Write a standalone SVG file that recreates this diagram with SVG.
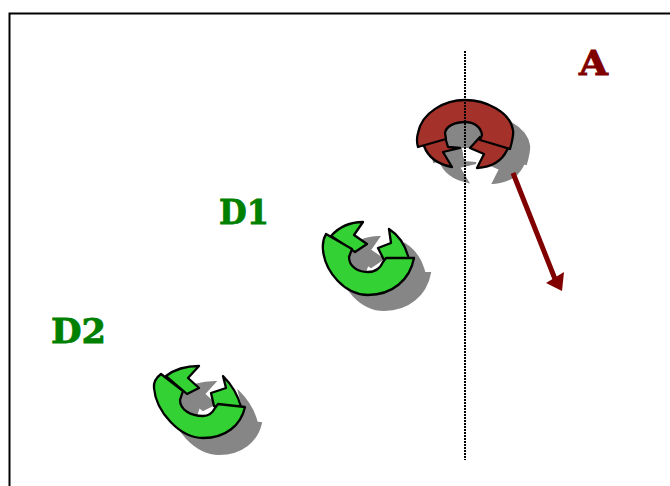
<svg xmlns="http://www.w3.org/2000/svg" width="670" height="486" viewBox="0 0 670 486">
<style>
.p{stroke:#000;stroke-width:2.300;stroke-linejoin:round}
.g{fill:#33d133}
.r{fill:#a5322a}
.s{fill:#868686;stroke:#868686;stroke-width:2}
.t{font-family:"DejaVu Serif",serif;font-weight:bold;font-size:33px;stroke-width:.8}
</style>
<defs>
<g id="a-shape">
<path d="M424 143L445 137L448 147L460 148L443 152L452 167C437 164 428 157 424 146Z"/>
<path d="M507 150L510 146L480 137L470 148L484 154L477 168C492 167 502 161 507 150Z"/>
<path d="M418 147Q416 140 418 133C422 112 445 100 465 100C486 100 510 112 513 130Q514 135 510 149L480 140L482 135C481 127 474 122 465 122C455 122 446 126 445 133L446 139Z"/>
</g>
<g id="d1-shape">
<path d="M331 236C340 226 351 222 363 222L354 235L367 244L355 252Z"/>
<path d="M389 229C400 236 406 246 409 260L384 260L378 248L391 243Z"/>
<path d="M326 234Q322 241 323 250C325 272 345 295 368 295C392 295 410 280 414 258L386 258L383 262C380 269 375 272 368 272C357 272 349 266 349 257L352 249Z"/>
</g>
<g id="d2-shape">
<path d="M166 376C175 369 187 366 199 366L188 378L199 388L187 394Z"/>
<path d="M223 376C232 385 238 395 241 407L214 406L211 393L226 388Z"/>
<path d="M161 374Q153 380 154 388C156 412 180 438 203 438C226 438 241 425 245 407L218 404L215 408C212 414 208 416 203 416C191 416 180 410 180 400L183 391Z"/>
</g>
</defs>
<rect id="frame" x="9.500" y="13.500" width="680" height="500" fill="none" stroke="#000" stroke-width="2"/>
<g id="node-a">
<use href="#a-shape" class="s" x="16" y="15"/>
<path d="M465 122C455 122 446 126 445 133L446 139L460 148L470 148L480 140L482 135C481 127 474 122 465 122Z" fill="#868686"/>
<use href="#a-shape" class="r p"/>
<text x="579" y="75" class="t" fill="#800000" stroke="#800000" textLength="29" lengthAdjust="spacingAndGlyphs">A</text>
</g>
<g id="node-d1">
<use href="#d1-shape" class="s" x="16" y="15"/>
<use href="#d1-shape" class="g p"/>
<text x="219" y="224" class="t" fill="#008000" stroke="#008000" textLength="50" lengthAdjust="spacingAndGlyphs">D1</text>
</g>
<g id="node-d2">
<use href="#d2-shape" class="s" x="16" y="16"/>
<use href="#d2-shape" class="g p"/>
<text x="51" y="343" class="t" fill="#008000" stroke="#008000" textLength="55" lengthAdjust="spacingAndGlyphs">D2</text>
</g>
<g id="connectors">
<path d="M465 51V460" fill="none" stroke="#000" stroke-width="2" stroke-dasharray="2 1"/>
<path d="M513 173L555 279" fill="none" stroke="#800000" stroke-width="5"/>
<path d="M562 291L546 283L564 272Z" fill="#800000"/>
</g>
</svg>
